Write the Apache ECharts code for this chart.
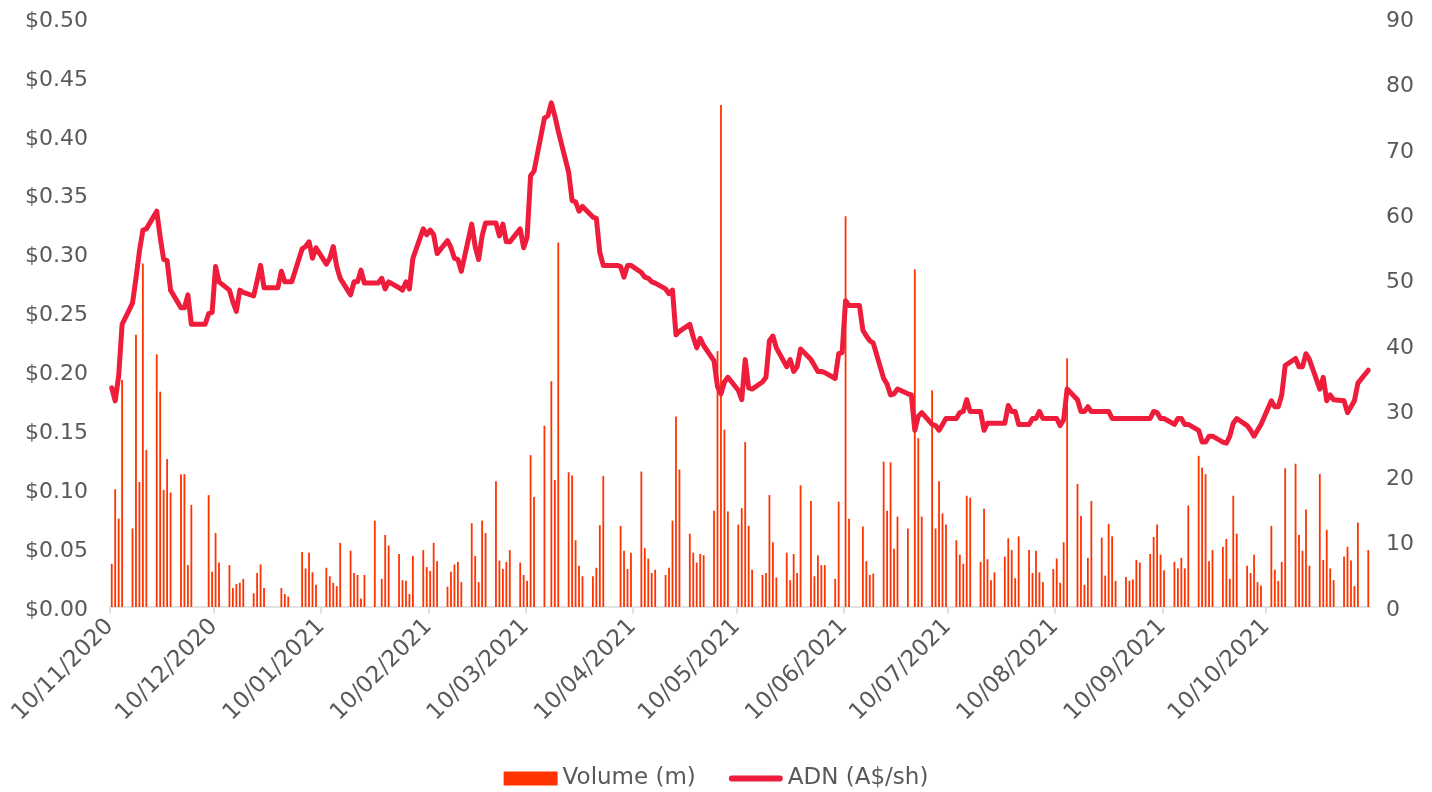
<!DOCTYPE html>
<html>
<head>
<meta charset="utf-8">
<title>ADN share price and volume</title>
<script src="https://cdn.jsdelivr.net/npm/echarts@6.0.0/dist/echarts.min.js"></script>
<style>
  html, body { margin: 0; padding: 0; background: #fff; }
  #chart { width: 1432px; height: 792px; }
</style>
</head>
<body>
<div id="chart"></div>
<script>
// one row per trading week (Mon..Fri), first week starts Tue 10/11/2020
var price = [
  0.186, 0.175, 0.196, 0.240,
  0.258, 0.279, 0.302, 0.320, 0.321,
  0.336, 0.314, 0.295, 0.294, 0.269,
  0.254, 0.254, 0.265, 0.240, 0.240,
  0.240, 0.249, 0.250, 0.289, 0.276,
  0.269, 0.259, 0.251, 0.269, 0.267,
  0.264, 0.277, 0.290, 0.271, 0.271,
  0.271, 0.285, 0.276, 0.276, 0.276,
  0.304, 0.306, 0.310, 0.296, 0.305,
  0.291, 0.296, 0.306, 0.289, 0.279,
  0.265, 0.276, 0.276, 0.286, 0.275,
  0.275, 0.275, 0.279, 0.270, 0.276,
  0.271, 0.269, 0.276, 0.270, 0.296,
  0.321, 0.316, 0.320, 0.316, 0.300,
  0.311, 0.305, 0.296, 0.295, 0.285,
  0.325, 0.306, 0.295, 0.315, 0.326,
  0.326, 0.315, 0.325, 0.310, 0.310,
  0.321, 0.305, 0.314, 0.366, 0.370,
  0.415, 0.417, 0.428, 0.417, 0.404,
  0.369, 0.345, 0.344, 0.336, 0.340,
  0.331, 0.330, 0.301, 0.290, 0.290,
  0.290, 0.289, 0.280, 0.290, 0.290,
  0.284, 0.280, 0.279, 0.276, 0.275,
  0.270, 0.266, 0.269, 0.231, 0.234,
  0.240, 0.229, 0.220, 0.228, 0.222,
  0.209, 0.187, 0.181, 0.191, 0.195,
  0.184, 0.176, 0.210, 0.186, 0.185,
  0.191, 0.195, 0.226, 0.230, 0.220,
  0.204, 0.210, 0.200, 0.204, 0.219,
  0.210, 0.205, 0.200, 0.200, 0.199,
  0.194, 0.215, 0.216, 0.260, 0.256,
  0.256, 0.235, 0.230, 0.226, 0.224,
  0.194, 0.189, 0.180, 0.181, 0.185,
  0.181, 0.180, 0.150, 0.162, 0.165,
  0.155, 0.154, 0.150, 0.155, 0.160,
  0.160, 0.165, 0.166, 0.176, 0.166,
  0.166, 0.150, 0.156, 0.156, 0.156,
  0.156, 0.171, 0.166, 0.166, 0.155,
  0.155, 0.160, 0.160, 0.166, 0.160,
  0.160, 0.160, 0.154, 0.159, 0.185,
  0.176, 0.166, 0.166, 0.170, 0.166,
  0.166, 0.166, 0.166, 0.160, 0.160,
  0.160, 0.160, 0.160, 0.160, 0.160,
  0.160, 0.166, 0.165, 0.160, 0.160,
  0.155, 0.160, 0.160, 0.155, 0.155,
  0.150, 0.140, 0.140, 0.145, 0.145,
  0.140, 0.139, 0.145, 0.156, 0.160,
  0.154, 0.150, 0.145, 0.150, 0.155,
  0.175, 0.170, 0.170, 0.180, 0.205,
  0.211, 0.204, 0.204, 0.215, 0.210,
  0.185, 0.195, 0.175, 0.180, 0.176,
  0.175, 0.165, 0.170, 0.175, 0.190,
  0.201
];

// volume in millions, null = no bar (holiday / no trade shown)
var volume = [
  6.6, 18.0, 13.5, 34.7,
  12.0, 41.6, 19.1, 52.5, 24.0,
  38.6, 32.9, 17.9, 22.6, 17.5,
  20.3, 20.3, 6.4, 15.6, null,
  null, 17.1, 5.4, 11.3, 6.8,
  6.4, 2.9, 3.5, 3.7, 4.3,
  2.1, 5.2, 6.5, 2.9, null,
  null, 2.9, 2.0, 1.6, null,
  8.4, 5.9, 8.3, 5.3, 3.4,
  6.0, 4.7, 3.7, 3.2, 9.8,
  8.6, 5.2, 4.9, 1.3, 4.9,
  13.2, null, 4.3, 11.0, 9.4,
  8.1, 4.1, 4.0, 2.0, 7.8,
  8.7, 6.1, 5.5, 9.8, 7.0,
  3.1, 5.4, 6.5, 6.9, 3.8,
  12.8, 7.8, 3.8, 13.2, 11.3,
  19.2, 7.1, 5.8, 6.9, 8.7,
  6.8, 4.9, 4.0, 23.2, 16.8,
  27.7, null, 34.5, 19.4, 55.7,
  20.6, 20.1, 10.2, 6.3, 4.7,
  4.7, 6.0, 12.5, 20.0, null,
  null, 12.4, 8.6, 5.8, 8.3,
  20.7, 9.0, 7.4, 5.2, 5.7,
  4.9, 6.0, 13.2, 29.1, 21.0,
  11.2, 8.3, 6.8, 8.1, 7.9,
  14.7, 39.1, 76.7, 27.1, 14.6,
  12.6, 15.1, 25.2, 12.4, 5.7,
  4.9, 5.2, 17.1, 9.9, 4.5,
  8.3, 4.1, 8.1, 5.2, 18.6,
  16.2, 4.7, 7.9, 6.4, 6.4,
  4.3, 16.1, null, 59.7, 13.5,
  null, 12.3, 7.0, 4.9, 5.1,
  22.2, 14.7, 22.1, 8.9, 13.8,
  12.0, null, 51.6, 25.8, 13.8,
  33.1, 12.0, 19.2, 14.3, 12.6,
  10.2, 8.0, 6.6, 17.0, 16.7,
  6.9, 15.0, 7.3, 4.1, 5.3,
  7.7, 10.5, 8.7, 4.4, 10.8,
  8.7, 5.2, 8.6, 5.3, 3.8,
  5.8, 7.4, 3.7, 9.9, 38.0,
  18.8, 13.9, 3.4, 7.5, 16.2,
  10.6, 4.8, 12.7, 10.8, 4.0,
  4.6, 4.0, 4.2, 7.2, 6.8,
  8.1, 10.7, 12.6, 8.0, 5.6,
  6.9, 5.9, 7.5, 5.9, 15.5,
  23.1, 21.3, 20.3, 7.0, 8.7,
  9.2, 10.4, 4.3, 17.0, 11.2,
  6.3, 5.2, 8.0, 3.8, 3.3,
  12.4, 5.7, 4.0, 6.9, 21.2,
  21.9, 11.0, 8.6, 14.9, 6.3,
  20.3, 7.2, 11.8, 5.9, 4.1,
  7.7, 9.2, 7.1, 3.2, 12.9,
  8.7
];

var tickDates = ['2020-11-10', '2020-12-10', '2021-01-10', '2021-02-10', '2021-03-10', '2021-04-10',
  '2021-05-10', '2021-06-10', '2021-07-10', '2021-08-10', '2021-09-10', '2021-10-10'];

var DAY = 86400000;
var startDay = Date.UTC(2020, 10, 10);
var endDay = Date.UTC(2021, 10, 9);

// trading days = weekdays from the start date
var tradingDays = [];
for (var t = startDay; tradingDays.length < price.length; t += DAY) {
  var wd = new Date(t).getUTCDay();
  if (wd !== 0 && wd !== 6) tradingDays.push(t);
}

var tickValues = tickDates.map(function (s) { return Date.parse(s); });

function pad(n) { return n < 10 ? '0' + n : '' + n; }

var FONT = 'DejaVu Sans';
var TXT = '#595959';
var FS = 23;

// nudge y labels down a few px so they centre on their value
var yRich = { t: { fontSize: 22, color: TXT, fontFamily: FONT, padding: [6, 0, 0, 0] } };

var chart = echarts.init(document.getElementById('chart'));

var option = {
  animation: false,
  textStyle: { fontFamily: FONT },
  grid: { left: 110, right: 62, top: 18, bottom: 185, outerBoundsMode: 'none' },
  legend: {
    top: 762,
    left: 'center',
    itemWidth: 54,
    itemHeight: 14,
    itemGap: 33,
    textStyle: { fontSize: FS, color: TXT, fontFamily: FONT },
    data: [
      { name: 'Volume (m)', icon: 'rect' },
      // thick rounded line like the series stroke
      { name: 'ADN (A$/sh)', icon: 'path://M3,0 L53,0 A3,3 0 0 1 53,6 L3,6 A3,3 0 0 1 3,0 Z' }
    ]
  },
  // dates kept as a numeric (ms) axis so ticks can sit on the 10th of each month
  xAxis: {
    type: 'value',
    min: startDay,
    max: endDay,
    axisLine: { show: true, lineStyle: { color: '#d9d9d9', width: 1.5 } },
    axisTick: { show: true, length: 7, customValues: tickValues, lineStyle: { color: '#d9d9d9', width: 1.5 } },
    splitLine: { show: false },
    axisLabel: {
      customValues: tickValues,
      rotate: 45,
      margin: 16,
      fontSize: FS,
      color: TXT,
      fontFamily: FONT,
      formatter: function (v) {
        var d = new Date(v);
        return pad(d.getUTCDate()) + '/' + pad(d.getUTCMonth() + 1) + '/' + d.getUTCFullYear();
      }
    }
  },
  yAxis: [{
    type: 'value',
    min: 0,
    max: 0.5,
    interval: 0.05,
    axisLine: { show: false },
    axisTick: { show: false },
    splitLine: { show: false },
    axisLabel: {
      margin: 22,
      rich: yRich,
      formatter: function (v) { return '{t|$' + v.toFixed(2) + '}'; }
    }
  }, {
    type: 'value',
    position: 'right',
    min: 0,
    max: 90,
    interval: 10,
    axisLine: { show: false },
    axisTick: { show: false },
    splitLine: { show: false },
    axisLabel: {
      margin: 16,
      rich: yRich,
      formatter: function (v) { return '{t|' + v + '}'; }
    }
  }],
  series: [{
    name: 'Volume (m)',
    type: 'bar',
    yAxisIndex: 1,
    barWidth: 1.8,
    itemStyle: { color: '#FF3300' },
    data: volume.map(function (v, i) { return [tradingDays[i] + DAY / 2, v == null ? '-' : v]; })
  }, {
    name: 'ADN (A$/sh)',
    type: 'line',
    yAxisIndex: 0,
    symbol: 'none',
    z: 5,
    lineStyle: { color: '#EE1D3B', width: 5, join: 'round', cap: 'round' },
    itemStyle: { color: '#EE1D3B' },
    data: price.map(function (v, i) { return [tradingDays[i] + DAY / 2, v]; })
  }]
};

chart.setOption(option);
</script>
</body>
</html>
